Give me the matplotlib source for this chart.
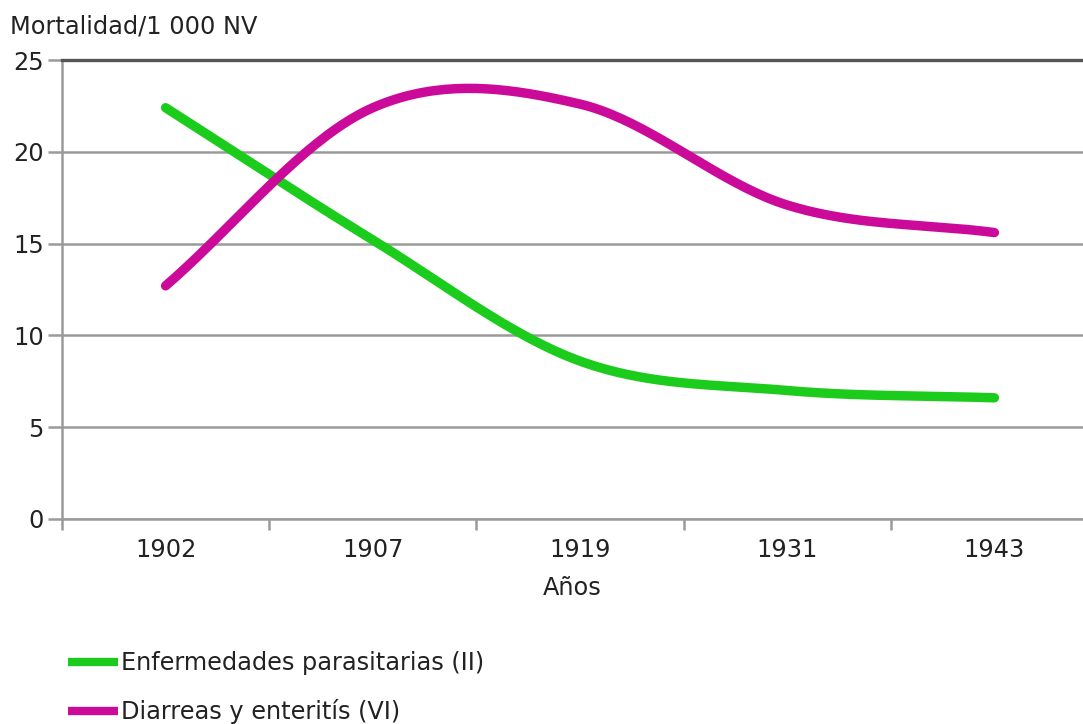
import matplotlib.pyplot as plt
from matplotlib.lines import Line2D
import numpy as np

years = ['1902', '1907', '1919', '1931', '1943']
parasitarias = [22.4, 15.2, 8.6, 7.0, 6.6]
diarreas = [12.7, 22.4, 22.6, 17.1, 15.6]
labels = ['Enfermedades parasitarias (II)', 'Diarreas y enteritís (VI)']

green = '#1ccc1c'
magenta = '#cc0a99'
grid_col = '#9a9a9a'
text_col = '#222222'


def smooth(vals, n=40):
    # cubic hermite through the points (catmull-rom tangents)
    y = np.asarray(vals, dtype=float)
    x = np.arange(len(y))
    m = np.empty_like(y)
    m[1:-1] = (y[2:] - y[:-2]) / 2
    m[0] = y[1] - y[0]
    m[-1] = y[-1] - y[-2]
    xs, ys = [], []
    for i in range(len(y) - 1):
        t = np.linspace(0, 1, n, endpoint=(i == len(y) - 2))
        h00 = 2 * t**3 - 3 * t**2 + 1
        h10 = t**3 - 2 * t**2 + t
        h01 = -2 * t**3 + 3 * t**2
        h11 = t**3 - t**2
        xs.append(x[i] + t)
        ys.append(h00 * y[i] + h10 * m[i] + h01 * y[i + 1] + h11 * m[i + 1])
    return np.concatenate(xs), np.concatenate(ys)


fs = 17.3
fig = plt.figure(figsize=(10.83, 7.24), dpi=100)
ax = fig.add_axes([62 / 1083, 1 - 519 / 724, 1036 / 1083, 459 / 724])

xg, yg = smooth(parasitarias)
xm, ym = smooth(diarreas)
ax.plot(xg, yg, color=green, lw=6.8, solid_capstyle='round', zorder=3)
ax.plot(xm, ym, color=magenta, lw=6.8, solid_capstyle='round', zorder=3)

ax.set_xlim(-0.5, len(years) - 0.5)
ax.set_ylim(0, 25)

ax.set_yticks(range(0, 26, 5))
ax.yaxis.grid(True, color=grid_col, lw=1.8)
ax.set_axisbelow(True)
ax.tick_params(axis='y', length=10, width=1.8, color=grid_col,
               labelsize=fs, labelcolor=text_col, pad=3)

ax.set_xticks(np.arange(-0.5, len(years), 1.0))
ax.set_xticklabels([])
ax.set_xticks(range(len(years)), minor=True)
ax.set_xticklabels(years, minor=True)
ax.tick_params(axis='x', which='major', length=8, width=1.8, color=grid_col)
ax.tick_params(axis='x', which='minor', length=0, labelsize=fs,
               labelcolor=text_col, pad=14)

ax.spines['right'].set_visible(False)
ax.spines['left'].set_color(grid_col)
ax.spines['left'].set_linewidth(1.8)
ax.spines['bottom'].set_color(grid_col)
ax.spines['bottom'].set_linewidth(1.8)
ax.spines['top'].set_color('#555555')
ax.spines['top'].set_linewidth(2.4)

fig.text(572.5 / 1083, 1 - 588 / 724, 'Años', ha='center', va='center',
         fontsize=fs, color=text_col)
fig.text(10 / 1083, 1 - 26 / 724, 'Mortalidad/1 000 NV', ha='left',
         va='center', fontsize=fs, color=text_col)

handles = [Line2D([], [], color=c, lw=6, solid_capstyle='butt')
           for c in (green, magenta)]
fig.legend(handles, labels, loc='upper left',
           bbox_to_anchor=(68 / 1083, 1 - 651 / 724),
           frameon=False, fontsize=fs, handlelength=2.1, handletextpad=0.1,
           borderpad=0, borderaxespad=0, labelspacing=1.0, labelcolor=text_col)

fig.savefig('out.png', dpi=100)
